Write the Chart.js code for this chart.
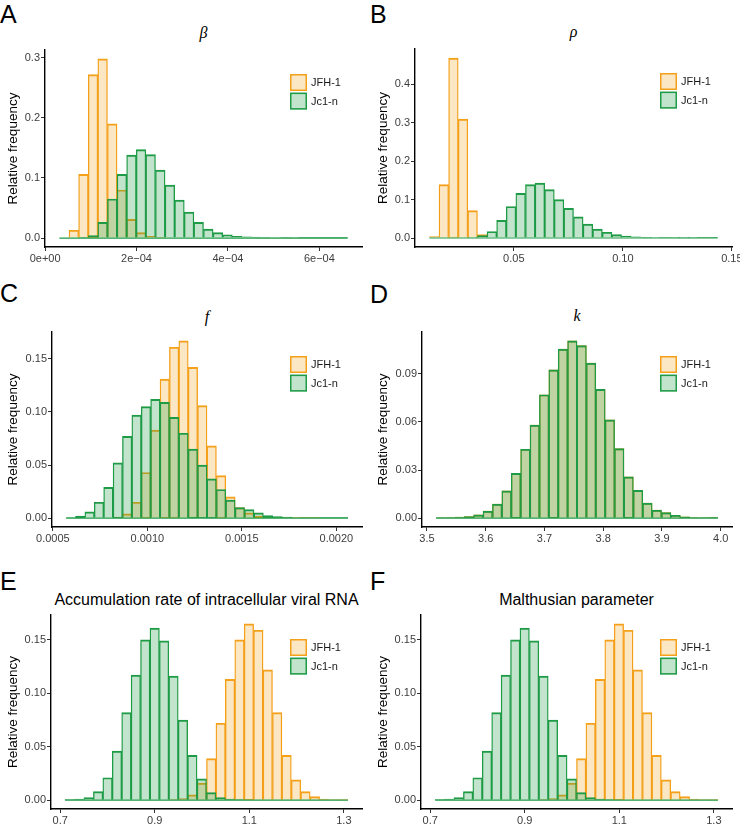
<!DOCTYPE html>
<html>
<head>
<meta charset="utf-8">
<script src="https://cdn.jsdelivr.net/npm/chart.js@4.4.1/dist/chart.umd.min.js"></script>
<style>
  body { margin: 0; background: #fff; width: 740px; height: 824px; position: relative; overflow: hidden;
         font-family: "Liberation Sans", Arial, sans-serif; }
  canvas { position: absolute; }
  .letter { position: absolute; font-size: 25px; line-height: 25px; color: #000; }
  .ptitle { position: absolute; font-size: 16px; line-height: 16px; text-align: center; color: #000; white-space: nowrap; }
  .math { font-family: "Liberation Serif", "DejaVu Serif", serif; font-style: italic; }
</style>
</head>
<body>

<div class="letter" style="left:0;top:2px">A</div>
<div class="letter" style="left:370px;top:2px">B</div>
<div class="letter" style="left:0;top:281px">C</div>
<div class="letter" style="left:370px;top:282px">D</div>
<div class="letter" style="left:0;top:569px">E</div>
<div class="letter" style="left:370px;top:569px">F</div>

<div class="ptitle math" style="left:45px;top:25px;width:317px">β</div>
<div class="ptitle math" style="left:415px;top:24px;width:317px">ρ</div>
<div class="ptitle math" style="left:52px;top:309px;width:310px">f</div>
<div class="ptitle math" style="left:422px;top:308px;width:310px">k</div>
<div class="ptitle" style="left:51px;top:592px;width:311px">Accumulation rate of intracellular viral RNA</div>
<div class="ptitle" style="left:421px;top:592px;width:311px">Malthusian parameter</div>

<canvas id="cA" width="370" height="230" style="left:0;top:40px"></canvas>
<canvas id="cB" width="370" height="230" style="left:370px;top:40px"></canvas>
<canvas id="cC" width="370" height="224" style="left:0;top:322px"></canvas>
<canvas id="cD" width="370" height="224" style="left:370px;top:322px"></canvas>
<canvas id="cE" width="370" height="219" style="left:0;top:605px"></canvas>
<canvas id="cF" width="370" height="219" style="left:370px;top:605px"></canvas>

<script>
// series names
var seriesNames = ['JFH-1', 'Jc1-n'];

// left edge of first bin / right edge of last bin (30 bins per panel)
var binRangeA = [0.313e-4, 6.618e-4];
var binRangeB = [0.0113, 0.14345];
var binRangeC = [0.000570, 0.002061];
var binRangeD = [3.5155, 3.9953];
var binRangeE = [0.7105, 1.3084];
var binRangeF = [0.7105, 1.3084];

// relative frequencies per bin
var jfhA = [0, 0.013, 0.106, 0.272, 0.298, 0.190, 0.080, 0.031, 0.009, 0.003,
            0.001, 0, 0, 0, 0, 0, 0, 0, 0, 0, 0, 0, 0, 0, 0, 0, 0, 0, 0, 0];
var jc1A = [0, 0, 0.001, 0.004, 0.026, 0.065, 0.106, 0.138, 0.147, 0.139,
            0.113, 0.088, 0.063, 0.043, 0.026, 0.015, 0.009, 0.0055, 0.003, 0.002,
            0.0015, 0.001, 0.0007, 0.0005, 0.0003, 0.0002, 0.0002, 0.0001, 0.0001, 0.0001];

var jfhB = [0.004, 0.139, 0.468, 0.309, 0.071, 0.009, 0, 0, 0, 0,
            0, 0, 0, 0, 0, 0, 0, 0, 0, 0, 0, 0, 0, 0, 0, 0, 0, 0, 0, 0];
var jc1B = [0, 0, 0, 0, 0.001, 0.006, 0.017, 0.046, 0.082, 0.116,
            0.139, 0.143, 0.126, 0.100, 0.077, 0.055, 0.036, 0.023, 0.015, 0.009,
            0.005, 0.003, 0.002, 0.001, 0.0008, 0.0005, 0.0004, 0.0003, 0.0002, 0.0001];

var jfhC = [0, 0, 0, 0, 0, 0.001, 0.004, 0.015, 0.043, 0.083,
            0.131, 0.161, 0.167, 0.142, 0.106, 0.068, 0.040, 0.020, 0.010, 0.005,
            0.002, 0.001, 0.0007, 0.0004, 0.0002, 0.0001, 0.0001, 0, 0, 0];
var jc1C = [0.0003, 0.002, 0.006, 0.015, 0.029, 0.052, 0.077, 0.097, 0.105, 0.112,
            0.109, 0.095, 0.080, 0.065, 0.050, 0.037, 0.027, 0.017, 0.010, 0.008,
            0.005, 0.0025, 0.0015, 0.001, 0.0006, 0.0004, 0.0003, 0.0002, 0.0001, 0.0001];

var jfhD = [0.0002, 0.0004, 0.0006, 0.001, 0.002, 0.0044, 0.0087, 0.017, 0.028, 0.043,
            0.058, 0.077, 0.0925, 0.1054, 0.1106, 0.1077, 0.0967, 0.0804, 0.0613, 0.0434,
            0.0258, 0.0173, 0.0094, 0.005, 0.0035, 0.0017, 0.0008, 0.0004, 0.0002, 0.0001];
var jc1D = [0.0002, 0.0004, 0.0006, 0.001, 0.002, 0.0044, 0.0087, 0.017, 0.028, 0.043,
            0.058, 0.077, 0.0925, 0.1054, 0.1106, 0.1077, 0.0967, 0.0804, 0.0613, 0.0434,
            0.0258, 0.0173, 0.0094, 0.005, 0.0035, 0.0017, 0.0008, 0.0004, 0.0002, 0.0001];

var jfhE = [0, 0, 0, 0, 0, 0, 0, 0, 0, 0,
            0, 0.0005, 0.0016, 0.005, 0.016, 0.039, 0.072, 0.113, 0.150, 0.165,
            0.159, 0.122, 0.082, 0.042, 0.019, 0.008, 0.0034, 0.001, 0.0003, 0.0001];
var jc1E = [0.0002, 0.001, 0.0025, 0.008, 0.021, 0.046, 0.082, 0.117, 0.150, 0.161,
            0.149, 0.116, 0.075, 0.042, 0.020, 0.007, 0.0025, 0.001, 0.0003, 0,
            0, 0, 0, 0, 0, 0, 0, 0, 0, 0];

var jfhF = [0, 0, 0, 0, 0, 0, 0, 0, 0, 0,
            0, 0.0005, 0.0016, 0.005, 0.016, 0.039, 0.072, 0.113, 0.150, 0.165,
            0.159, 0.122, 0.082, 0.042, 0.019, 0.008, 0.0034, 0.001, 0.0003, 0.0001];
var jc1F = [0.0002, 0.001, 0.0025, 0.008, 0.021, 0.046, 0.082, 0.117, 0.150, 0.161,
            0.149, 0.116, 0.075, 0.042, 0.020, 0.007, 0.0025, 0.001, 0.0003, 0,
            0, 0, 0, 0, 0, 0, 0, 0, 0, 0];

// tick values and labels
var xTicksA = [0, 2e-4, 4e-4, 6e-4];
var xLabelsA = ['0e+00', '2e\u221204', '4e\u221204', '6e\u221204'];
var xTicksB = [0.05, 0.10, 0.15];
var xLabelsB = ['0.05', '0.10', '0.15'];
var xTicksC = [0.0005, 0.0010, 0.0015, 0.0020];
var xLabelsC = ['0.0005', '0.0010', '0.0015', '0.0020'];
var xTicksD = [3.5, 3.6, 3.7, 3.8, 3.9, 4.0];
var xLabelsD = ['3.5', '3.6', '3.7', '3.8', '3.9', '4.0'];
var xTicksE = [0.7, 0.9, 1.1, 1.3];
var xLabelsE = ['0.7', '0.9', '1.1', '1.3'];

var yTicksA = [0, 0.1, 0.2, 0.3];
var yLabelsA = ['0.0', '0.1', '0.2', '0.3'];
var yTicksB = [0, 0.1, 0.2, 0.3, 0.4];
var yLabelsB = ['0.0', '0.1', '0.2', '0.3', '0.4'];
var yTicksC = [0, 0.05, 0.10, 0.15];
var yLabelsC = ['0.00', '0.05', '0.10', '0.15'];
var yTicksD = [0, 0.03, 0.06, 0.09];
var yLabelsD = ['0.00', '0.03', '0.06', '0.09'];

var orange = 'rgb(245,160,25)';
var orangeFill = 'rgba(245,160,25,0.25)';
var green = 'rgb(30,155,70)';
var greenFill = 'rgba(30,155,70,0.27)';
var tickColor = '#3d3d3d';

Chart.defaults.font.family = '"Liberation Sans", Arial, sans-serif';

// shared bar look; side borders are halved so neighbouring bars share one edge line
var barStyle = {
  grouped: false,
  barPercentage: 1,
  categoryPercentage: 1,
  borderWidth: { top: 1.3, left: 0.7, right: 0.7, bottom: 0 },
  borderSkipped: false
};

// canvas box: [left, top, width, height]; plot: [left, top, right, bottom] (page px)
function histogram(id, box, plot, range, jfh, jc1, xt, xl, yt, yl) {
  var n = jfh.length;
  var bw = (range[1] - range[0]) / n;
  var span = range[1] - range[0];
  var centers = jfh.map(function (v, i) { return range[0] + (i + 0.5) * bw; });
  var top = Math.max.apply(null, jfh.concat(jc1));

  var baseline = {
    id: 'baseline',
    afterDatasetsDraw: function (chart) {
      var ctx = chart.ctx, xs = chart.scales.x, ys = chart.scales.y;
      var y0 = ys.getPixelForValue(0);
      ctx.save();
      ctx.strokeStyle = green;
      ctx.lineWidth = 1.2;
      ctx.beginPath();
      ctx.moveTo(xs.getPixelForValue(range[0]), y0);
      ctx.lineTo(xs.getPixelForValue(range[1]), y0);
      ctx.stroke();
      ctx.restore();
    }
  };

  var legendKeys = {
    id: 'legendKeys',
    afterDraw: function (chart) {
      var ctx = chart.ctx, a = chart.chartArea;
      var x = a.right - 72, y = a.top + 24;
      chart.data.datasets.forEach(function (ds, i) {
        var t = y + i * 18.6;
        ctx.save();
        ctx.fillStyle = '#fff';
        ctx.fillRect(x, t, 17, 17);
        ctx.fillStyle = ds.backgroundColor;
        ctx.fillRect(x, t, 17, 17);
        ctx.lineWidth = 1.5;
        ctx.strokeStyle = ds.borderColor;
        ctx.strokeRect(x + 0.75, t + 0.75, 15.5, 15.5);
        ctx.fillStyle = '#1a1a1a';
        ctx.font = '11px "Liberation Sans", Arial, sans-serif';
        ctx.textBaseline = 'middle';
        ctx.fillText(ds.label, x + 21, t + 9);
        ctx.restore();
      });
    }
  };

  var axisGrid = { drawOnChartArea: false, drawTicks: true, tickLength: 4, color: '#333', lineWidth: 1, offset: false };
  var axisBorder = { display: true, color: '#000', width: 1.4 };

  return new Chart(document.getElementById(id), {
    type: 'bar',
    data: {
      datasets: [Object.assign({
        label: seriesNames[0],
        data: centers.map(function (c, i) { return { x: c, y: jfh[i] }; }),
        backgroundColor: orangeFill,
        borderColor: orange,
        order: 1
      }, barStyle), Object.assign({
        label: seriesNames[1],
        data: centers.map(function (c, i) { return { x: c, y: jc1[i] }; }),
        backgroundColor: greenFill,
        borderColor: green,
        order: 0
      }, barStyle)]
    },
    options: {
      responsive: false,
      animation: false,
      events: [],
      layout: {
        padding: { top: plot[1] - box[1], right: box[0] + box[2] - plot[2], left: 0, bottom: 0 }
      },
      plugins: { legend: { display: false }, tooltip: { enabled: false }, title: { display: false } },
      scales: {
        x: {
          type: 'linear',
          bounds: 'data',
          offset: false,
          min: range[0] - 0.05 * span,
          max: range[1] + 0.05 * span,
          grid: axisGrid,
          border: axisBorder,
          afterBuildTicks: function (s) { s.ticks = xt.map(function (v) { return { value: v }; }); },
          ticks: {
            autoSkip: false, maxRotation: 0, padding: 1, color: tickColor, font: { size: 11 },
            callback: function (v, i) { return xl[i]; }
          },
          afterFit: function (s) {
            s.height = box[1] + box[3] - plot[3];
            s.paddingLeft = 0; s.paddingRight = 0;
          }
        },
        y: {
          type: 'linear',
          bounds: 'data',
          min: -0.05 * top,
          max: 1.05 * top,
          grid: axisGrid,
          border: axisBorder,
          afterBuildTicks: function (s) { s.ticks = yt.map(function (v) { return { value: v }; }); },
          ticks: {
            padding: 1, color: tickColor, font: { size: 11 },
            callback: function (v, i) { return yl[i]; }
          },
          title: {
            display: true, text: 'Relative frequency', color: '#000',
            font: { size: 13.5 }, padding: 5
          },
          afterFit: function (s) {
            s.width = plot[0] - box[0];
            s.paddingTop = 0; s.paddingBottom = 0;
          }
        }
      }
    },
    plugins: [baseline, legendKeys]
  });
}

histogram('cA', [0, 40, 370, 230], [45, 50, 362, 247], binRangeA, jfhA, jc1A, xTicksA, xLabelsA, yTicksA, yLabelsA);
histogram('cB', [370, 40, 370, 230], [415, 49, 732, 247], binRangeB, jfhB, jc1B, xTicksB, xLabelsB, yTicksB, yLabelsB);
histogram('cC', [0, 322, 370, 224], [52, 332, 362, 527], binRangeC, jfhC, jc1C, xTicksC, xLabelsC, yTicksC, yLabelsC);
histogram('cD', [370, 322, 370, 224], [422, 332, 732, 527], binRangeD, jfhD, jc1D, xTicksD, xLabelsD, yTicksD, yLabelsD);
histogram('cE', [0, 605, 370, 219], [51, 615, 362, 809], binRangeE, jfhE, jc1E, xTicksE, xLabelsE, yTicksC, yLabelsC);
histogram('cF', [370, 605, 370, 219], [421, 615, 732, 809], binRangeF, jfhF, jc1F, xTicksE, xLabelsE, yTicksC, yLabelsC);
</script>
</body>
</html>
